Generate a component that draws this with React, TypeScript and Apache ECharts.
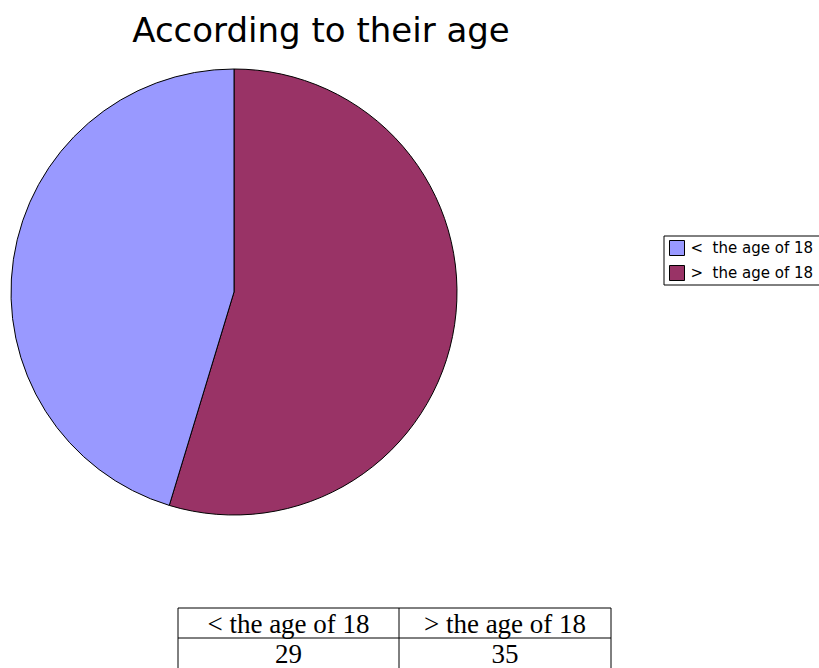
import React, { useEffect, useRef } from "react";
import * as echarts from "echarts";

const categories = ["< the age of 18", "> the age of 18"];
const values = [29, 35];
const colors = ["#9999FF", "#993366"];
const titleText = "According to their age";

export default function App() {
  const ref = useRef<HTMLDivElement>(null);
  useEffect(() => {
    const chart = echarts.init(ref.current!, null, { renderer: "svg" });
    const pieData = [1, 0].map((i) => ({
      name: categories[i],
      value: values[i],
      itemStyle: { color: colors[i] },
    }));
    const tableLeft = 178;
    const tableMid = 399;
    const tableRight = 611;
    const tableTop = 608;
    const rowH = 30;
    const serif = "'Liberation Serif', 'Times New Roman', serif";
    chart.setOption({
      animation: false,
      backgroundColor: "#ffffff",
      title: {
        text: titleText,
        left: 316,
        top: 8,
        textAlign: "center",
        textStyle: {
          fontFamily: "'DejaVu Sans', sans-serif",
          fontSize: 34,
          fontWeight: "normal",
          color: "#000",
        },
      },
      legend: {
        orient: "vertical",
        left: 664,
        top: 236,
        data: categories,
        icon: "rect",
        itemWidth: 15,
        itemHeight: 15,
        itemGap: 9,
        padding: [4, 20, 4, 5],
        borderColor: "#000",
        borderWidth: 1,
        borderRadius: 0,
        itemStyle: { borderColor: "#000", borderWidth: 1 },
        textStyle: {
          fontFamily: "'DejaVu Sans', sans-serif",
          fontSize: 15,
          color: "#000",
          padding: [0, 0, 0, 1],
        },
        formatter: (n: string) => n.replace(" ", "  "),
      },
      series: [
        {
          type: "pie",
          center: [234, 292],
          radius: 223,
          startAngle: 90,
          clockwise: true,
          label: { show: false },
          labelLine: { show: false },
          emphasis: { disabled: true },
          itemStyle: { borderColor: "#000", borderWidth: 1 },
          data: pieData,
        },
      ],
      graphic: [
        {
          type: "rect",
          shape: { x: tableLeft, y: tableTop, width: tableRight - tableLeft, height: rowH * 3 },
          style: { fill: "none", stroke: "#000", lineWidth: 1 },
        },
        {
          type: "line",
          shape: { x1: tableMid, y1: tableTop, x2: tableMid, y2: tableTop + rowH * 3 },
          style: { stroke: "#000", lineWidth: 1 },
        },
        {
          type: "line",
          shape: { x1: tableLeft, y1: tableTop + rowH, x2: tableRight, y2: tableTop + rowH },
          style: { stroke: "#000", lineWidth: 1 },
        },
        ...categories.flatMap((c, i) => {
          const cx = i === 0 ? (tableLeft + tableMid) / 2 : (tableMid + tableRight) / 2;
          return [
            {
              type: "text",
              x: cx,
              y: tableTop + rowH / 2 + 1,
              style: {
                text: c,
                fontFamily: serif,
                fontSize: 27,
                fill: "#000",
                align: "center",
                verticalAlign: "middle",
              },
            },
            {
              type: "text",
              x: cx,
              y: tableTop + rowH * 1.5 + 1,
              style: {
                text: String(values[i]),
                fontFamily: serif,
                fontSize: 27,
                fill: "#000",
                align: "center",
                verticalAlign: "middle",
              },
            },
          ];
        }),
      ],
    });
    return () => chart.dispose();
  }, []);
  return <div ref={ref} style={{ width: 819, height: 668, position: "absolute", left: 0, top: 0 }} />;
}
